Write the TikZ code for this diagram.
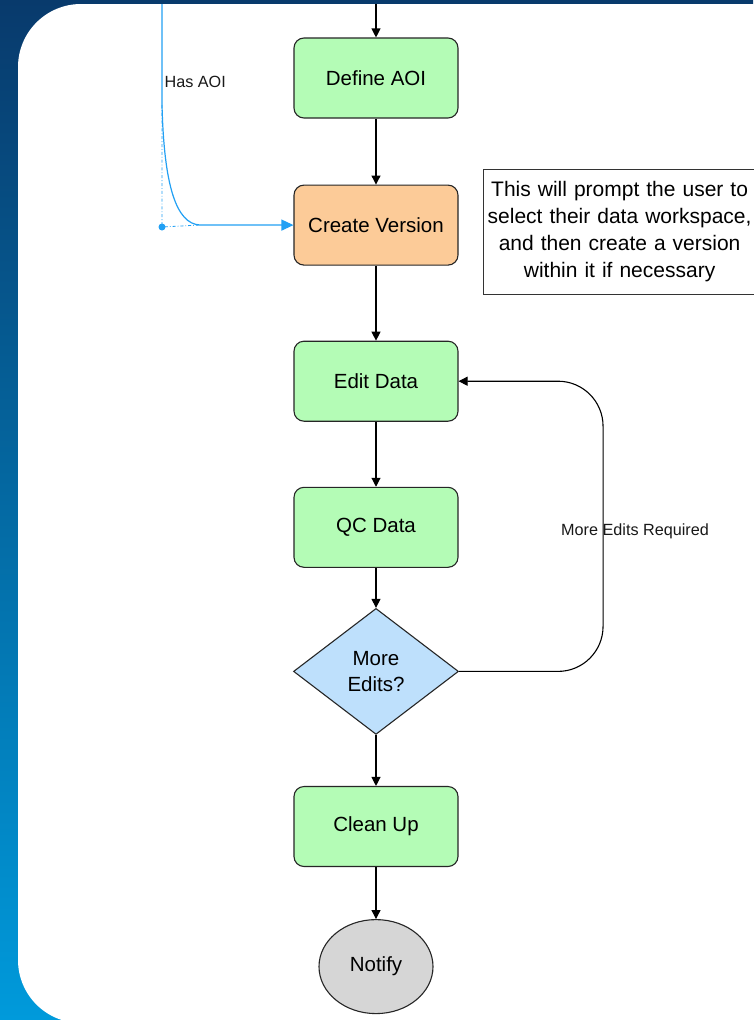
\documentclass[tikz,border=0pt]{standalone}
\usepackage{fontspec}
\setmainfont{Liberation Sans}
\usetikzlibrary{arrows.meta,positioning,shapes.geometric}

\definecolor{stepgreen}{HTML}{B4FCB6}
\definecolor{versionorange}{HTML}{FCCB98}
\definecolor{decisionblue}{HTML}{BEE0FC}
\definecolor{endgray}{HTML}{D6D6D6}
\definecolor{aoiblue}{HTML}{22A0F4}
\definecolor{bgtop}{HTML}{083A6C}
\definecolor{bgbottom}{HTML}{009ADB}

\tikzset{
  stepbox/.style={draw=black!85,line width=1.1pt,rounded corners=10pt,fill=stepgreen,
    minimum width=164pt,minimum height=80pt,font=\fontsize{20.5}{26}\selectfont},
  decision/.style={diamond,draw=black!85,line width=1.1pt,fill=decisionblue,aspect=1.31,
    inner sep=0pt,minimum width=165pt,minimum height=126pt,align=center,
    font=\fontsize{20.5}{26}\selectfont},
  endstate/.style={ellipse,draw=black!85,line width=1.1pt,fill=endgray,inner sep=0pt,
    minimum width=114pt,minimum height=94pt,font=\fontsize{20.5}{26}\selectfont},
  notebox/.style={draw=black!80,line width=1.1pt,fill=white,align=center,text width=273pt,
    inner sep=0pt,minimum height=125pt,font=\fontsize{21}{27}\selectfont},
  edgelabel/.style={font=\fontsize{16.2}{19}\selectfont,text=black!90,inner sep=2pt},
  flowline/.style={line width=1.1pt,draw=black},
  aoiline/.style={line width=1.2pt,draw=aoiblue}
}

\begin{document}
\begin{tikzpicture}[x=1pt,y=-1pt,>={Triangle[length=9pt,width=9pt]}]

  \useasboundingbox (0,0) rectangle (753,1020);
  \shade[top color=bgtop,bottom color=bgbottom] (0,0) rectangle (753,1020);
  \fill[white,rounded corners=63pt] (18,4) rectangle (830,1023);

  % flow steps
  \node[stepbox] (defaoi) at (376,78) {Define AOI};
  \node[stepbox,fill=versionorange,below=66pt of defaoi] (crver) {Create Version};
  \node[stepbox,below=75pt of crver] (editdata) {Edit Data};
  \node[stepbox,below=65pt of editdata] (qcdata) {QC Data};
  \node[decision,below=40pt of qcdata] (moreedits) {More\\Edits?};
  \node[stepbox,below=51pt of moreedits] (cleanup) {Clean Up};
  \node[endstate,below=52pt of cleanup] (notify) {Notify};

  \node[notebox,right=24pt of crver,yshift=-6.5pt] (note)
    {This will prompt the user to\\select their data workspace,\\and then create a version\\within it if necessary};

  % loose ends
  \coordinate (topin) at (376,4);
  \coordinate (aoiin) at (162,4);
  \coordinate (aoibend) at (162,105);
  \coordinate (aoicorner) at (162,227);
  \coordinate (aoiend) at (200,225);

  \draw[->,flowline] (topin) -- (defaoi);
  \path[->,flowline] (defaoi) edge (crver)
                     (crver) edge (editdata)
                     (editdata) edge (qcdata)
                     (qcdata) edge (moreedits)
                     (moreedits) edge (cleanup)
                     (cleanup) edge (notify);

  \draw[->,flowline,rounded corners=45pt] (moreedits.east) -- ++(144,0)
    |- node[pos=.25,xshift=32pt,yshift=-5pt,edgelabel] (moreedlbl) {More Edits Required} (editdata.east);

  % has AOI branch
  \draw[aoiline,-{Triangle[length=12pt,width=11pt]}] (aoiin)
    -- node[pos=.77,right,edgelabel] (hasaoi) {Has AOI} (aoibend)
    .. controls (164,185) and (176,224) .. (aoiend) -- (crver.west);
  \draw[aoiblue,line width=.8pt,dash dot] (aoibend) -- (aoicorner) -- (aoiend);
  \fill[aoiblue] (aoicorner) circle (3.5pt);

\end{tikzpicture}
\end{document}
